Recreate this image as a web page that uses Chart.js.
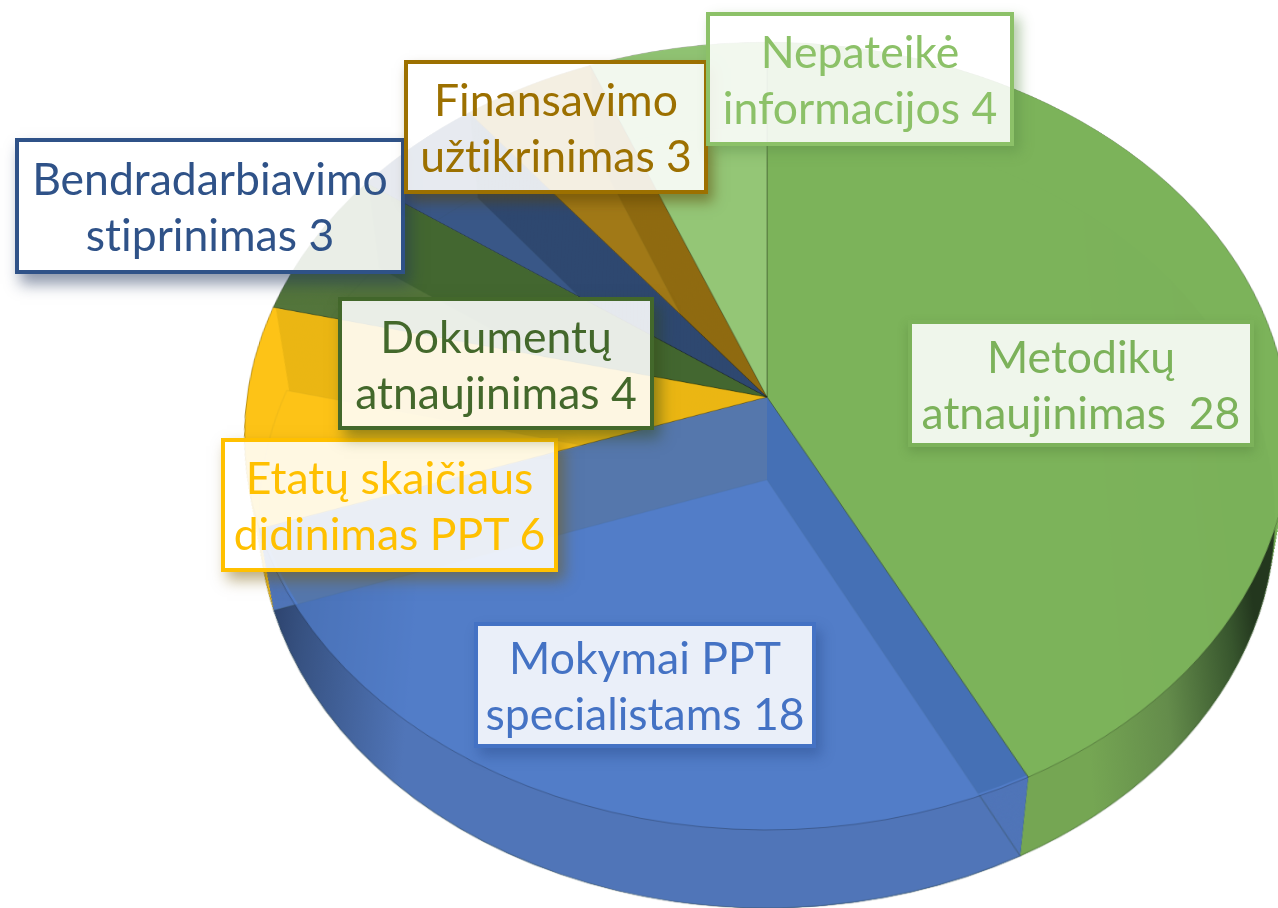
<!DOCTYPE html>
<html>
<head>
<meta charset="utf-8">
<script src="https://cdn.jsdelivr.net/npm/chart.js@4"></script>
<style>
html, body { margin: 0; height: 100%; background: #fff; overflow: hidden; }
#page { position: absolute; left: 0; top: 0; width: 1278px; height: 908px; overflow: hidden; filter: blur(0.7px); }
#pie { position: absolute; left: 117px; top: -253px; transform: perspective(3472px) rotateX(41.4deg); }
.lbl {
  position: absolute; box-sizing: border-box; display: flex; align-items: center; justify-content: center;
  text-align: center; white-space: pre; font-family: Lato, sans-serif; font-size: 44.5px; line-height: 56px;
  font-variant-ligatures: none;
  background: rgba(255,255,255,0.88); border: 4px solid;
}
.l0 { left: 908px; top: 320px; width: 346px; height: 127px; color: #7cb25a; border-color: #7cb25a; box-shadow: 0 5px 10px rgba(70,110,50,.3); }
.l1 { left: 474px; top: 622px; width: 342px; height: 126px; color: #4472c4; border-color: #4472c4; box-shadow: 5px 8px 12px rgba(30,60,120,.35); }
.l2 { left: 221px; top: 438px; width: 337px; height: 134px; color: #ffc000; border-color: #ffc000; box-shadow: 6px 8px 14px rgba(120,90,0,.5); }
.l3 { left: 338px; top: 297px; width: 316px; height: 133px; color: #43682b; border-color: #43682b; box-shadow: 6px 8px 14px rgba(50,70,20,.5); }
.l4 { left: 15px; top: 138px; width: 390px; height: 136px; color: #2f5288; border-color: #2f5288; box-shadow: 5px 10px 14px rgba(30,50,90,.5); }
.l5 { left: 404px; top: 60px; width: 304px; height: 134px; color: #9c7000; border-color: #9c7000; box-shadow: 5px 8px 12px rgba(90,65,0,.5); }
.l6 { left: 706px; top: 12px; width: 308px; height: 134px; color: #8cc168; border-color: #8cc168; box-shadow: 6px 6px 12px rgba(90,140,70,.45); }
</style>
</head>
<body>
<div id="page">
  <canvas id="pie" width="1300" height="1300"></canvas>
</div>
<script>
const categories = ["Metodikų\natnaujinimas ", "Mokymai PPT\nspecialistams", "Etatų skaičiaus\ndidinimas PPT", "Dokumentų\natnaujinimas", "Bendradarbiavimo\nstiprinimas", "Finansavimo\nužtikrinimas", "Nepateikė\ninformacijos"];
const values = [28, 18, 6, 4, 3, 3, 4];

// top face colours, the ones below are what shows through them
const topColors = ["rgba(124,179,90,0.985)", "rgba(83,128,207,0.7)", "rgba(253,195,24,0.8)", "rgba(84,118,60,0.8)", "rgba(58,88,135,0.8)", "rgba(160,120,20,0.8)", "rgba(150,200,120,0.85)"];
const wallColors = ["rgb(100,150,70)", null, "rgb(163,130,0)", "rgb(0,48,0)", "rgb(0,10,20)", "rgb(75,55,0)", "rgb(135,190,110)"];
const rimColors = ["rgb(122,178,88)", "rgb(80,117,184)", "rgb(253,195,24)", "rgb(84,118,60)", "rgb(58,88,135)", "rgb(165,125,35)", "rgb(110,170,90)"];
const floorColors = ["", "", "rgb(253,195,24)", "rgb(84,118,60)", "rgb(58,88,135)", "rgb(165,125,35)", "rgb(135,190,110)"];

const depth = 108;
const floorScale = 0.952;
const paintOrder = [6, 0, 5, 4, 3, 2, 1];

function paintArc(ctx, arc, fill, inner, edge) {
  const a = Object.create(arc);
  a.innerRadius = inner;
  a.options = { backgroundColor: fill, borderColor: edge || "transparent", borderWidth: edge ? 1.5 : 0,
    borderAlign: "center", offset: 0, spacing: 0, borderRadius: 0, circular: true };
  a.draw(ctx);
}

function atDepth(ctx, arc, k) {
  const s = 1 - (1 - floorScale) * k / depth;
  ctx.translate(arc.x, arc.y + k);
  ctx.scale(s, s);
  ctx.translate(-arc.x, -arc.y);
}

const solidBase = {
  id: "solidBase",
  beforeDatasetsDraw(chart) {
    const ctx = chart.ctx;
    const arcs = chart.getDatasetMeta(0).data;
    const w = chart.width;

    const greenFloor = ctx.createLinearGradient(0, 0, w, 0);
    greenFloor.addColorStop(0, "rgb(117,166,83)");
    greenFloor.addColorStop(960 / w, "rgb(117,166,83)");
    greenFloor.addColorStop(1040 / w, "rgb(100,140,75)");
    greenFloor.addColorStop(1110 / w, "rgb(55,85,45)");
    greenFloor.addColorStop(1135 / w, "rgb(35,55,30)");
    greenFloor.addColorStop(1, "rgb(35,55,30)");

    const blueFloor = ctx.createLinearGradient(0, 0, w, 0);
    blueFloor.addColorStop(0, "rgb(40,60,100)");
    blueFloor.addColorStop(140 / w, "rgb(40,60,100)");
    blueFloor.addColorStop(190 / w, "rgb(55,82,130)");
    blueFloor.addColorStop(300 / w, "rgb(80,117,184)");
    blueFloor.addColorStop(1, "rgb(80,117,184)");

    // blue side walls meet at the centre seam
    const blueWall = ctx.createLinearGradient(0, 0, w, 0);
    blueWall.addColorStop(0, "rgb(90,98,93)");
    blueWall.addColorStop(0.5, "rgb(90,98,93)");
    blueWall.addColorStop(0.5, "rgb(37,75,120)");
    blueWall.addColorStop(1, "rgb(37,75,120)");

    for (const i of paintOrder) {
      const arc = arcs[i];
      const wall = i === 1 ? blueWall : wallColors[i];
      const floor = i === 0 ? greenFloor : i === 1 ? blueFloor : floorColors[i];
      for (let k = 1; k <= depth; k++) {
        ctx.save();
        atDepth(ctx, arc, k);
        paintArc(ctx, arc, wall, 0);
        ctx.restore();
      }
      for (let k = 1; k <= depth; k++) {
        ctx.save();
        atDepth(ctx, arc, k);
        paintArc(ctx, arc, rimColors[i], arc.outerRadius - 3);
        ctx.restore();
      }
      ctx.save();
      atDepth(ctx, arc, depth);
      paintArc(ctx, arc, floor, 0, "rgba(40,60,40,0.25)");
      ctx.restore();
    }
  }
};

new Chart(document.getElementById("pie"), {
  type: "pie",
  data: {
    labels: categories,
    datasets: [{
      data: values,
      backgroundColor: topColors,
      borderColor: "rgba(0,0,0,0.25)",
      borderWidth: 1
    }]
  },
  options: {
    responsive: false,
    animation: false,
    radius: 520,
    layout: { padding: 0 },
    plugins: { legend: { display: false }, tooltip: { enabled: false } }
  },
  plugins: [solidBase]
});

// data labels sit flat on top of the tilted canvas
const page = document.getElementById("page");
categories.forEach((name, i) => {
  const box = document.createElement("div");
  box.className = "lbl l" + i;
  const txt = document.createElement("span");
  txt.textContent = name + " " + values[i];
  box.appendChild(txt);
  page.appendChild(box);
});
</script>
</body>
</html>
